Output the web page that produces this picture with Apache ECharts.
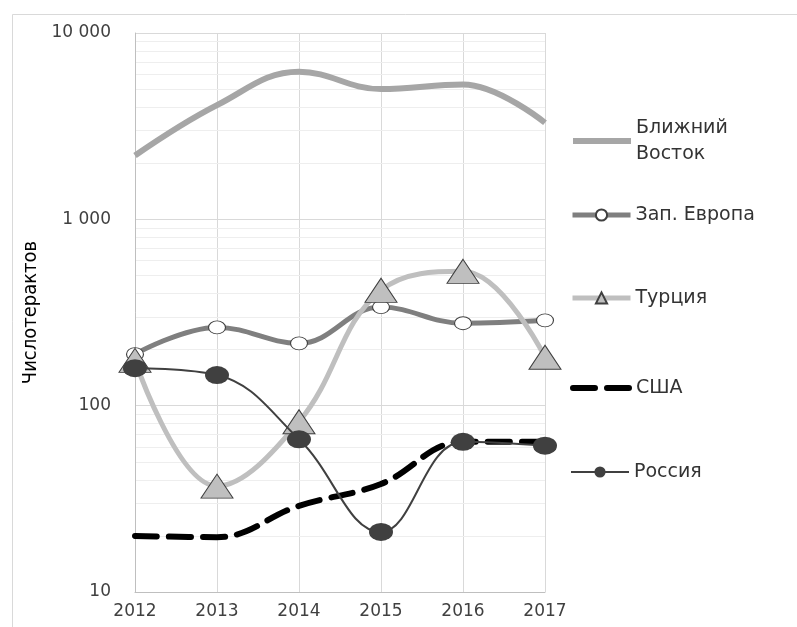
<!DOCTYPE html>
<html>
<head>
<meta charset="utf-8">
<script src="https://cdn.jsdelivr.net/npm/echarts@6/dist/echarts.min.js"></script>
<style>
  html, body { margin: 0; padding: 0; background: #fff; }
  #chart { width: 797px; height: 627px; }
</style>
</head>
<body>
<div id="chart"></div>
<script>
const years = ['2012', '2013', '2014', '2015', '2016', '2017']
const nearEast = [2200, 4100, 6200, 5000, 5300, 3300]
const westEurope = [189, 263, 216, 338, 277, 287]
const turkey = [175, 37, 82, 416, 526, 182]
const usa = [20, 19.7, 29, 38, 64, 64]
const russia = [159, 146, 66, 21, 64, 61]
const yTicks = [10, 100, 1000, 10000]
const yTickLabels = ['10', '100', '1 000', '10 000']
const minorLines = [20, 30, 40, 50, 60, 70, 80, 90, 200, 300, 400, 500, 600, 700, 800, 900, 2000, 3000, 4000, 5000, 6000, 7000, 8000, 9000]

const chart = echarts.init(document.getElementById('chart'))

const circlePath = 'path://M0,10A10,10,0,1,1,20,10A10,10,0,1,1,0,10Z'
const font = 'DejaVu Sans'

const names = ['Ближний Восток', 'Зап. Европа', 'Турция', 'США', 'Россия']
const legendTops = [110, 197, 280, 370, 454]
const lineStyles = [
  { color: '#a6a6a6', width: 6 },
  { color: '#7f7f7f', width: 5 },
  { color: '#bfbfbf', width: 5 },
  { color: '#000', width: 6, type: [22, 12], cap: 'round' },
  { color: '#404040', width: 2 }
]
const hideLegendSymbol = [true, false, false, true, false]

const option = {
  animation: false,
  backgroundColor: '#fff',
  graphic: [{
    type: 'rect',
    left: 10,
    top: 12,
    shape: { width: 900, height: 800 },
    style: { fill: 'none', stroke: '#d9d9d9', lineWidth: 1 },
    z: -10
  }],
  grid: { left: 135, right: 252, top: 33, bottom: 35 },
  legend: names.map((n, i) => ({
    data: [n],
    left: 565,
    top: legendTops[i],
    itemWidth: 58,
    itemHeight: 14,
    itemGap: 4,
    lineStyle: lineStyles[i],
    itemStyle: hideLegendSymbol[i] ? { opacity: 0 } : {},
    formatter: (name) => name === 'Ближний Восток' ? 'Ближний\nВосток' : name,
    textStyle: {
      fontFamily: font,
      fontSize: 19,
      color: '#333',
      lineHeight: 26
    }
  })),
  xAxis: {
    type: 'category',
    data: years,
    boundaryGap: false,
    axisLine: { lineStyle: { color: '#bfbfbf' } },
    axisTick: { show: false },
    axisLabel: { color: '#404040', fontFamily: font, fontSize: 17, margin: 11 },
    splitLine: { show: true, lineStyle: { color: '#d9d9d9' } }
  },
  yAxis: {
    type: 'log',
    logBase: 10,
    min: 10,
    max: 10000,
    name: 'Числотерактов',
    nameLocation: 'middle',
    nameGap: 90,
    nameTextStyle: { fontFamily: 'DejaVu Sans Condensed', fontSize: 20, color: '#000' },
    axisLine: { show: true, lineStyle: { color: '#bfbfbf' } },
    axisTick: { show: false },
    axisLabel: {
      color: '#404040',
      fontFamily: font,
      fontSize: 17,
      margin: 24,
      formatter: (v) => {
        const i = yTicks.indexOf(Math.round(v))
        return i >= 0 ? yTickLabels[i] : ''
      }
    },
    splitLine: { lineStyle: { color: '#d9d9d9' } }
  },
  series: [
    {
      name: 'Ближний Восток',
      type: 'line',
      data: nearEast,
      smooth: 0.4,
      symbol: 'none',
      lineStyle: lineStyles[0],
      itemStyle: { color: '#a6a6a6' },
      markLine: {
        silent: true,
        symbol: 'none',
        label: { show: false },
        lineStyle: { color: '#eeeeee', width: 1, type: 'solid' },
        data: minorLines.map(v => ({ yAxis: v })),
        z: 0
      },
      z: 2
    },
    {
      name: 'Зап. Европа',
      type: 'line',
      data: westEurope,
      smooth: 0.4,
      symbol: circlePath,
      symbolSize: [17, 13],
      lineStyle: lineStyles[1],
      itemStyle: { color: '#fff', borderColor: '#404040', borderWidth: 1 },
      z: 3
    },
    {
      name: 'Турция',
      type: 'line',
      data: turkey,
      smooth: 0.4,
      symbol: 'triangle',
      symbolSize: [32, 24],
      lineStyle: lineStyles[2],
      itemStyle: { color: '#bfbfbf', borderColor: '#404040', borderWidth: 1 },
      z: 4
    },
    {
      name: 'США',
      type: 'line',
      data: usa,
      smooth: 0.4,
      symbol: 'none',
      lineStyle: lineStyles[3],
      itemStyle: { color: '#000' },
      z: 5
    },
    {
      name: 'Россия',
      type: 'line',
      data: russia,
      smooth: 0.4,
      symbol: circlePath,
      symbolSize: [24, 18],
      lineStyle: lineStyles[4],
      itemStyle: { color: '#404040' },
      z: 6
    }
  ]
}

chart.setOption(option)
</script>
</body>
</html>
